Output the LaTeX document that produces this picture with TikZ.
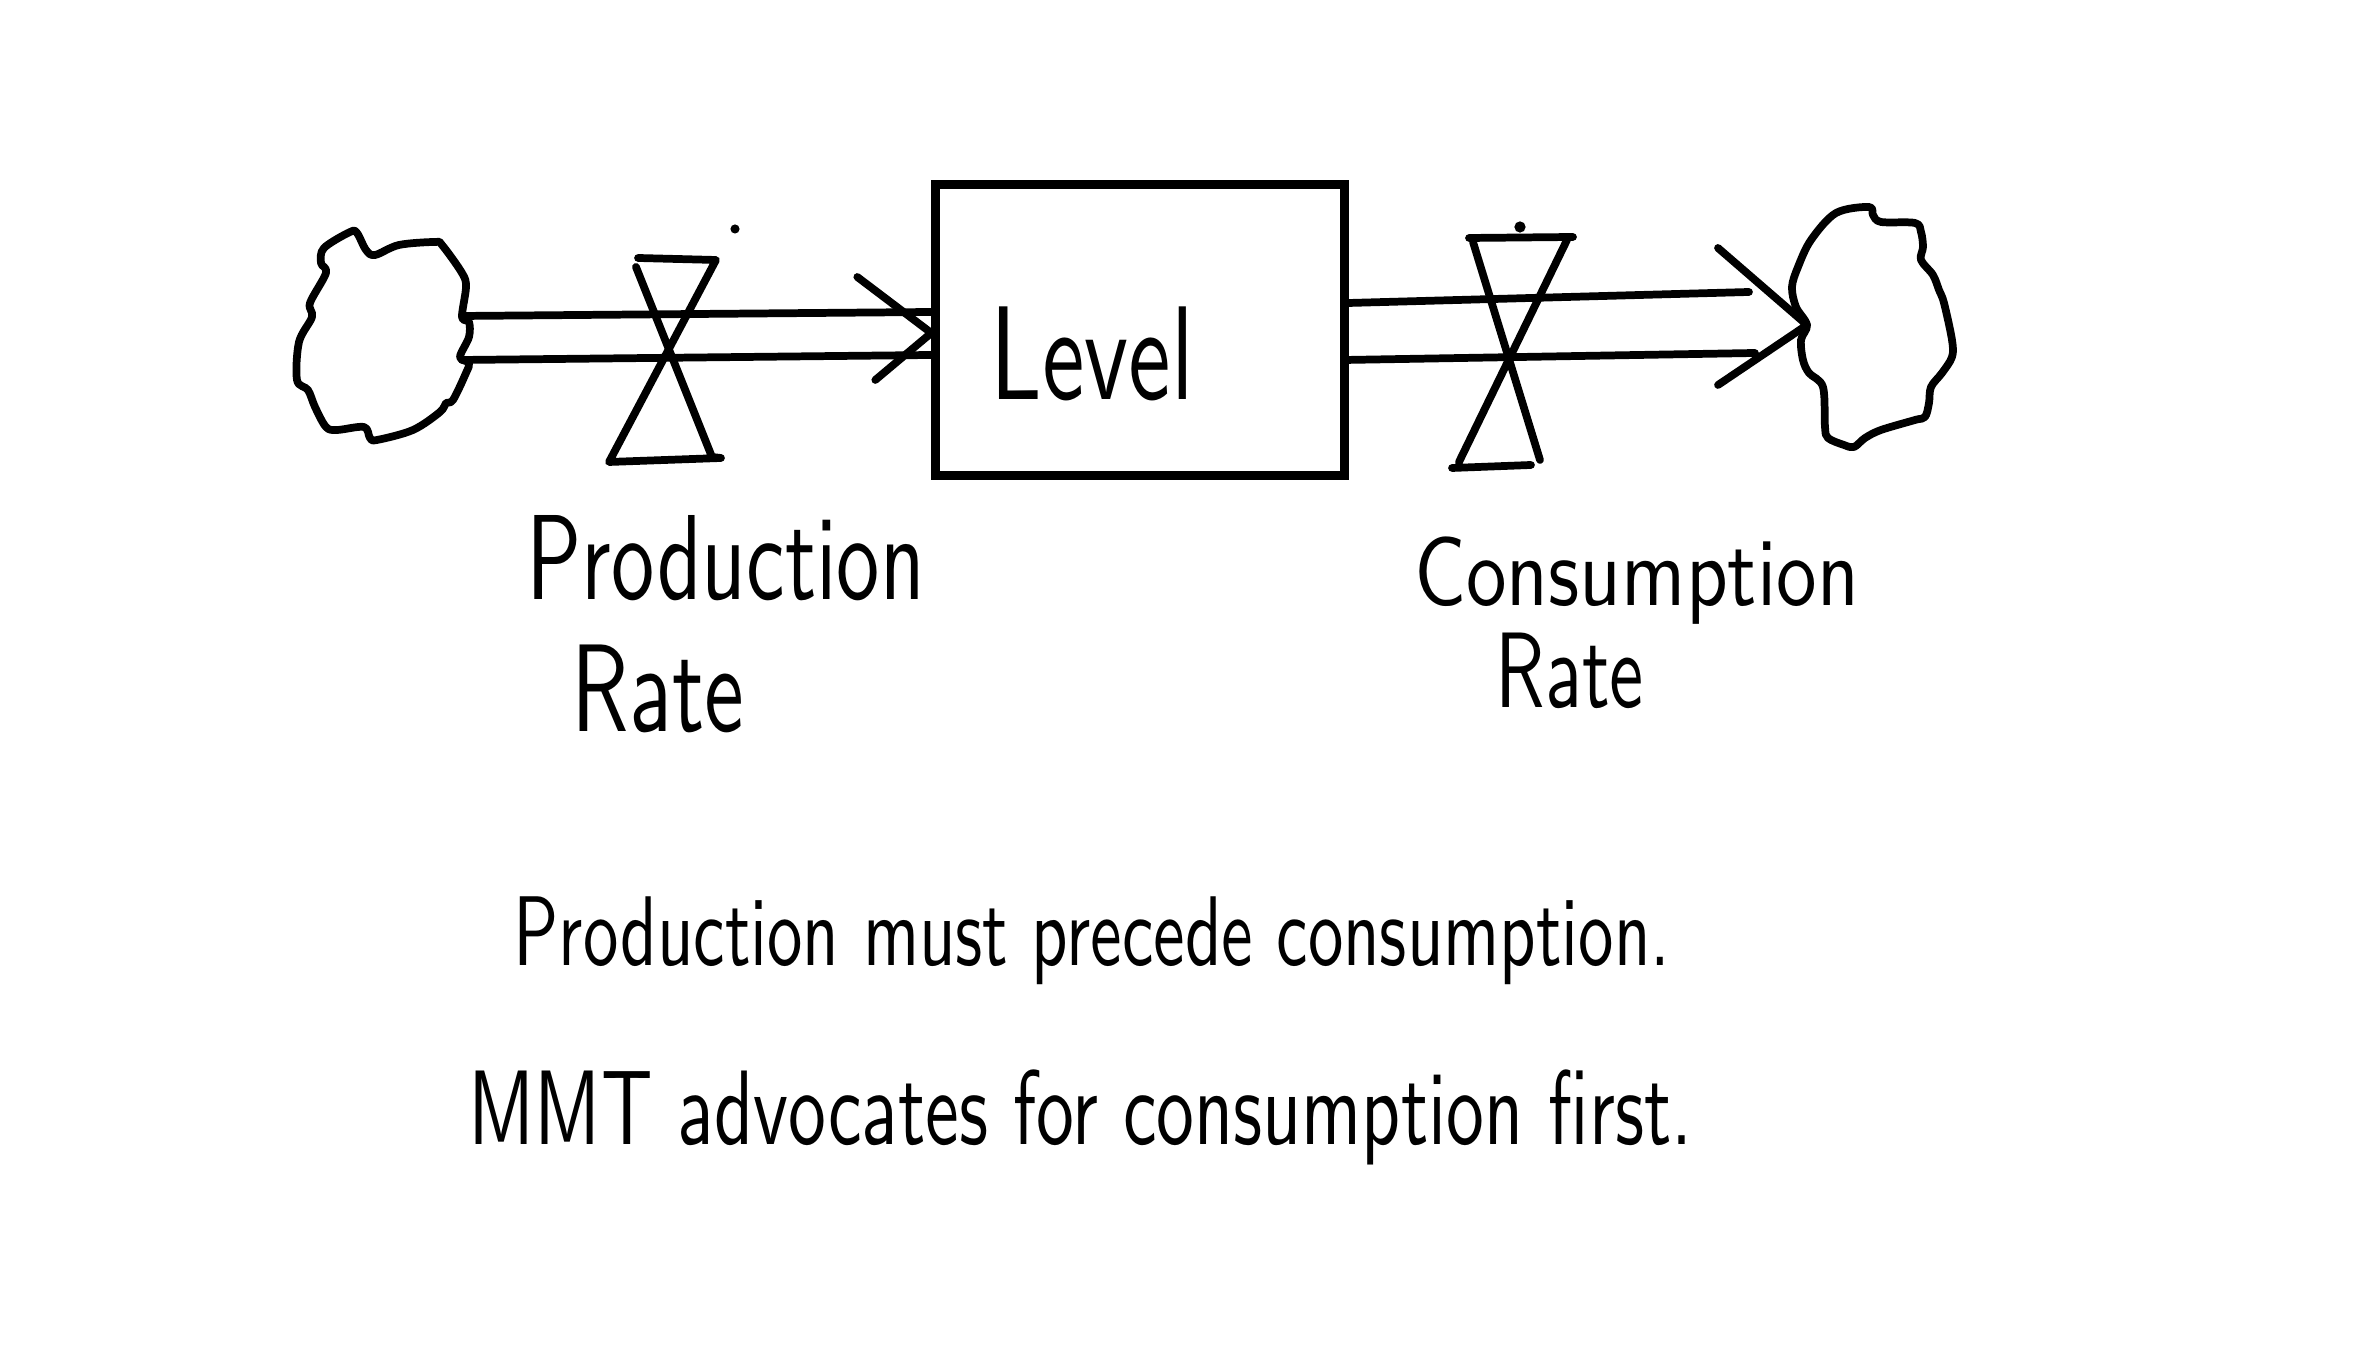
\documentclass[tikz,border=0pt]{standalone}
\usepackage{graphicx}
\usetikzlibrary{calc}
\newcommand{\hand}[3][1.4]{\resizebox{#2}{!}{\scalebox{1}[#1]{\sffamily #3}}}

\begin{document}
\begin{tikzpicture}[
  x=0.01cm, y=-0.01cm,
  ink/.style={line width=2.2pt, line cap=round, line join=round},
  stock/.style={draw, line width=2.6pt, minimum width=4.08cm, minimum height=2.91cm, inner sep=0pt},
  handtext/.style={inner sep=0pt, anchor=base west}
]
\useasboundingbox (0,0) rectangle (2368,1368);
% Stock in the middle
\node[stock] (level) at (1140,330) {};
\node[handtext] (lvltxt) at (990,400) {\hand{2.03cm}{Level}};
% Source cloud (left)
\draw[ink] plot[smooth cycle, tension=0.55] coordinates {
  (462,317) (466,287) (462,273) (442,245) (435,242) (399,245) (375,255) (366,250)
  (357,233) (350,232) (324,248) (321,263) (326,273) (310,303) (312,317) (299,342)
  (297,380) (308,390) (315,407) (326,427) (337,430) (364,427) (370,438) (377,440)
  (413,430) (440,412) (446,403) (453,400) (466,373) (469,363) (460,357) (469,337) (469,322)};
\coordinate (srcT) at (462,316);
\coordinate (srcB) at (462,360);
% Sink cloud (right)
\draw[ink] plot[smooth cycle, tension=0.55] coordinates {
  (1807,325) (1796,307) (1792,287) (1798,267) (1811,240) (1836,213) (1869,207) (1873,215)
  (1881,222) (1915,223) (1921,232) (1923,247) (1921,260) (1933,275) (1939,290) (1944,303)
  (1952,340) (1952,357) (1942,373) (1931,387) (1929,403) (1925,417) (1915,420) (1881,430)
  (1865,438) (1854,447) (1844,445) (1828,438) (1825,427) (1823,387) (1809,373) (1803,360) (1801,340)};
\coordinate (sinkTip) at (1807,325);
\coordinate (outT) at (1749,292);
\coordinate (outB) at (1755,353);
% Inflow pipe
\draw[ink] (srcT) -- ($(level.west)+(0,-18)$);
\draw[ink] (srcB) -- ($(level.west)+(0,25)$);
\draw[ink] ($(level.west)+(-74,-53)$) -- ($(level.west)+(0,3)$) -- ($(level.west)+(-56,50)$);
% Outflow pipe
\draw[ink] ($(level.east)+(0,-27)$) -- (outT);
\draw[ink] ($(level.east)+(-4,30)$) -- (outB);
\draw[ink] (sinkTip) ++(-89,-77) -- (sinkTip) -- ++(-89,60);
% Valves
\draw[ink] (638,258) -- (716,260) -- (609,462) -- (721,458) -- (712,457) -- (636,267);
\draw[ink] (1469,238) -- (1573,237) (1567,240) -- (1459,462) (1452,468) -- (1531,465) (1540,460) -- (1473,242);
\fill (735,229) circle[radius=1.3pt];
\fill (1520,227) circle[radius=1.6pt];
% Rate labels
\node[handtext] (prodtxt) at (526,600) {\hand{3.98cm}{Production}};
\node[handtext] (prodrate) at (571,732) {\hand{1.72cm}{Rate}};
\node[handtext] (constxt) at (1414,606) {\hand[1.2]{4.44cm}{Consumption}};
\node[handtext] (consrate) at (1495,708) {\hand{1.48cm}{Rate}};
% Notes
\node[handtext] (note1) at (513,966) {\hand{11.56cm}{Production must precede consumption.}};
\node[handtext] (note2) at (468,1145) {\hand{12.23cm}{MMT advocates for consumption first.}};
\end{tikzpicture}
\end{document}
